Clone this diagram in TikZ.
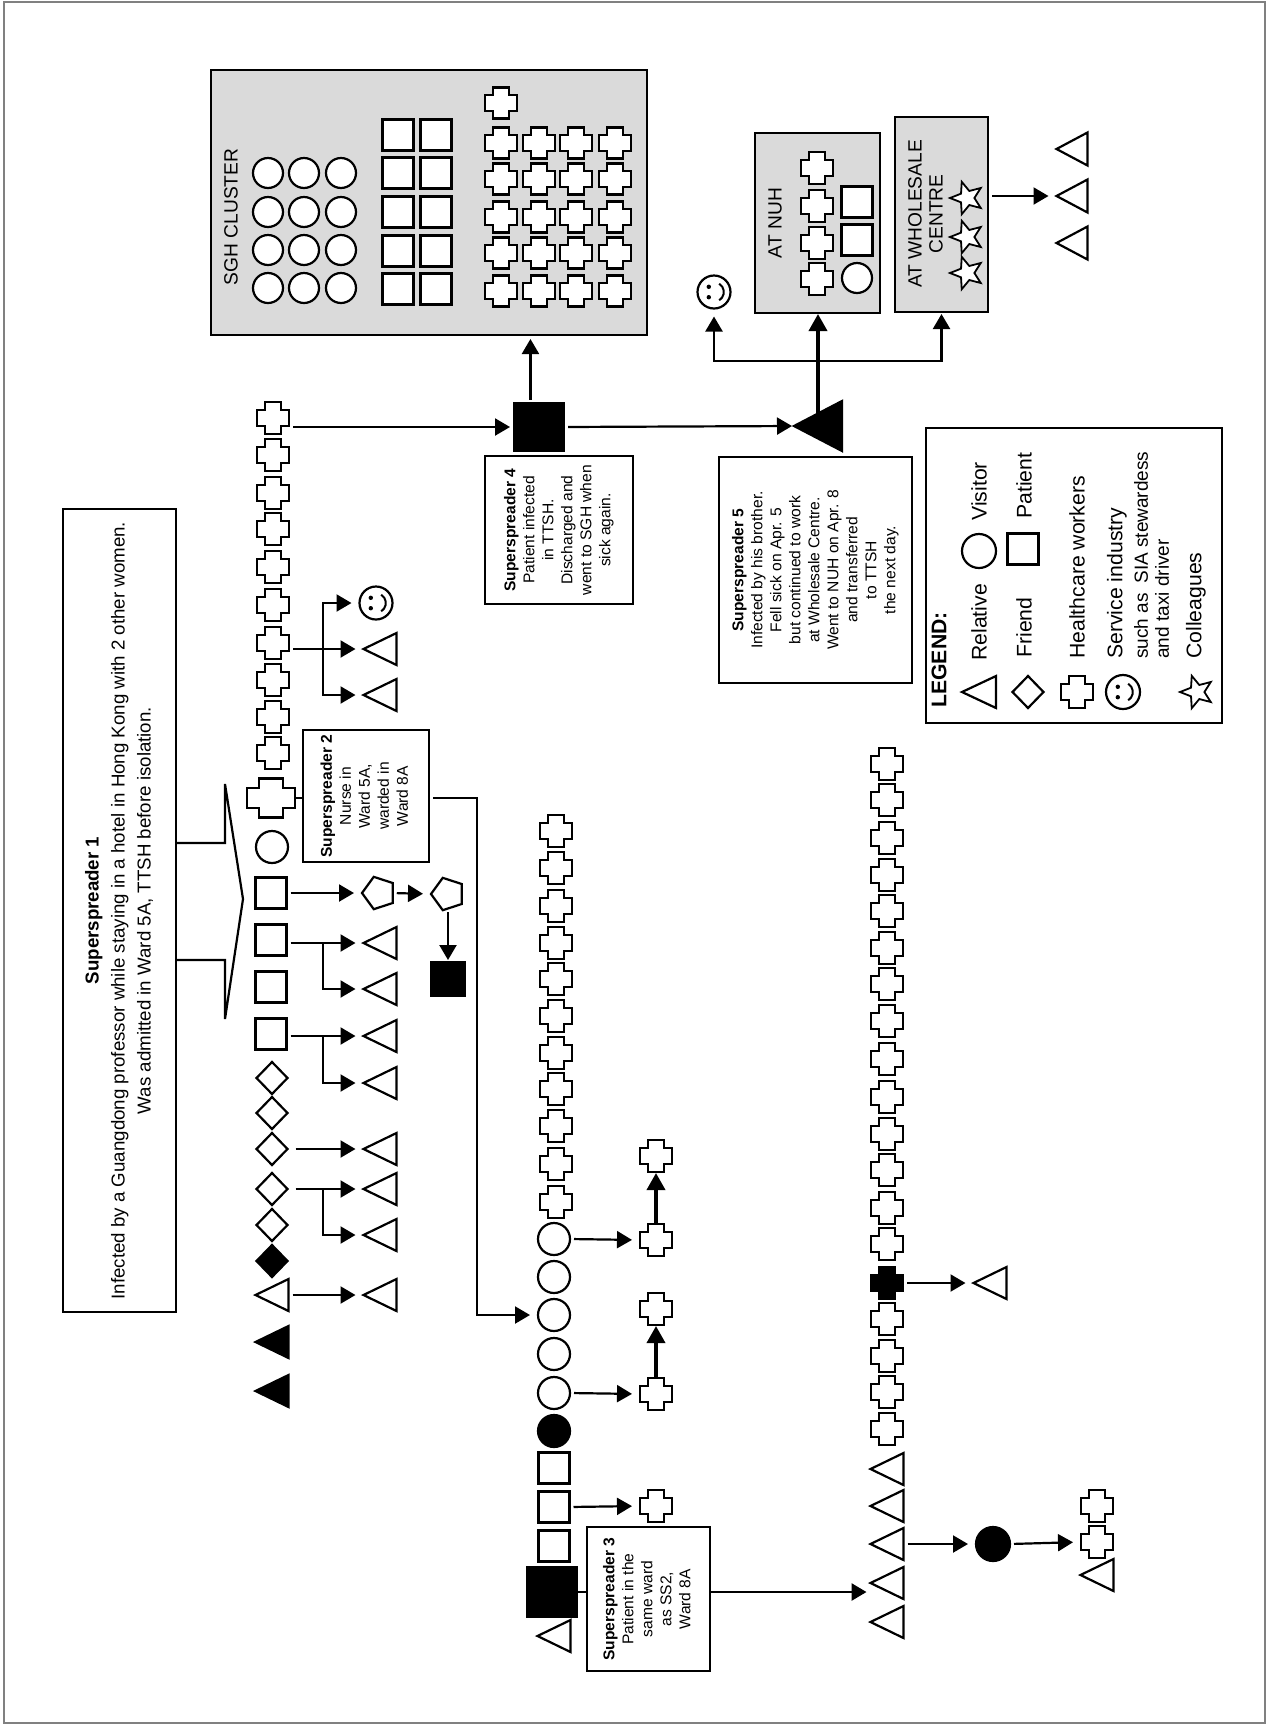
\documentclass[tikz,border=0pt]{standalone}
\usepackage{fontspec}
\setmainfont{Liberation Sans}
\usepackage{graphicx}
\usetikzlibrary{shapes.geometric,arrows.meta}
\definecolor{boxgray}{RGB}{218,218,218}
\definecolor{framegray}{RGB}{128,128,128}
\makeatletter
\newdimen\shxL \newdimen\shxR \newdimen\shyL \newdimen\shyR
\newdimen\shxA \newdimen\shxB \newdimen\shyA \newdimen\shyB
\pgfdeclareshape{plusshape}{%
  \inheritsavedanchors[from=rectangle]%
  \inheritanchorborder[from=rectangle]%
  \inheritanchor[from=rectangle]{center}%
  \inheritanchor[from=rectangle]{north}%
  \inheritanchor[from=rectangle]{south}%
  \inheritanchor[from=rectangle]{east}%
  \inheritanchor[from=rectangle]{west}%
  \inheritanchor[from=rectangle]{north east}%
  \inheritanchor[from=rectangle]{north west}%
  \inheritanchor[from=rectangle]{south east}%
  \inheritanchor[from=rectangle]{south west}%
  \backgroundpath{%
    \southwest \shxL=\pgf@x \shyL=\pgf@y
    \northeast \shxR=\pgf@x \shyR=\pgf@y
    \shxA=\shxR \advance\shxA by -\shxL \shxA=.25\shxA
    \shyA=\shyR \advance\shyA by -\shyL \shyA=.25\shyA
    \shxB=\shxR \advance\shxB by -\shxA
    \shyB=\shyR \advance\shyB by -\shyA
    \advance\shxA by \shxL
    \advance\shyA by \shyL
    \pgfpathmoveto{\pgfqpoint{\shxA}{\shyL}}%
    \pgfpathlineto{\pgfqpoint{\shxB}{\shyL}}%
    \pgfpathlineto{\pgfqpoint{\shxB}{\shyA}}%
    \pgfpathlineto{\pgfqpoint{\shxR}{\shyA}}%
    \pgfpathlineto{\pgfqpoint{\shxR}{\shyB}}%
    \pgfpathlineto{\pgfqpoint{\shxB}{\shyB}}%
    \pgfpathlineto{\pgfqpoint{\shxB}{\shyR}}%
    \pgfpathlineto{\pgfqpoint{\shxA}{\shyR}}%
    \pgfpathlineto{\pgfqpoint{\shxA}{\shyB}}%
    \pgfpathlineto{\pgfqpoint{\shxL}{\shyB}}%
    \pgfpathlineto{\pgfqpoint{\shxL}{\shyA}}%
    \pgfpathlineto{\pgfqpoint{\shxA}{\shyA}}%
    \pgfpathclose
  }%
}
\pgfdeclareshape{ltri}{%
  \inheritsavedanchors[from=rectangle]%
  \inheritanchorborder[from=rectangle]%
  \inheritanchor[from=rectangle]{center}%
  \inheritanchor[from=rectangle]{north}%
  \inheritanchor[from=rectangle]{south}%
  \inheritanchor[from=rectangle]{east}%
  \inheritanchor[from=rectangle]{west}%
  \inheritanchor[from=rectangle]{north east}%
  \inheritanchor[from=rectangle]{north west}%
  \inheritanchor[from=rectangle]{south east}%
  \inheritanchor[from=rectangle]{south west}%
  \backgroundpath{%
    \southwest \shxL=\pgf@x \shyL=\pgf@y
    \northeast \shxR=\pgf@x \shyR=\pgf@y
    \shyA=.5\shyL \advance\shyA by .5\shyR
    \pgfpathmoveto{\pgfqpoint{\shxL}{\shyA}}%
    \pgfpathlineto{\pgfqpoint{\shxR}{\shyR}}%
    \pgfpathlineto{\pgfqpoint{\shxR}{\shyL}}%
    \pgfpathclose
  }%
}
\makeatother
\newcommand\myfA{\fontsize{9.35pt}{13pt}\selectfont}
\newcommand\myfB{\fontsize{7.8pt}{9.5pt}\selectfont}
\newcommand\myfC{\fontsize{9.6pt}{10.5pt}\selectfont}
\newcommand\myfL{\fontsize{10.6pt}{12pt}\selectfont}
\newcommand\myfS{\fontsize{9.5pt}{11pt}\selectfont}
\newcommand\myrtab[1]{\rotatebox{90}{\begin{tabular}{@{}c@{}}#1\end{tabular}}}
\tikzset{
  sh/.style={draw, line width=1.1pt, inner sep=0pt, outer sep=0pt, fill=white},
  hcw/.style={sh, shape=plusshape, minimum width=16pt, minimum height=16pt},
  hcwf/.style={hcw, fill=black},
  rel/.style={sh, shape=ltri, minimum width=16.5pt, minimum height=16pt},
  relf/.style={rel, fill=black},
  vis/.style={sh, circle, minimum size=16pt},
  visf/.style={vis, fill=black},
  pat/.style={sh, rectangle, minimum size=15.5pt},
  patf/.style={pat, fill=black},
  fri/.style={sh, diamond, minimum width=15.5pt, minimum height=16pt},
  frif/.style={fri, fill=black},
  pent/.style={sh, regular polygon, regular polygon sides=5, shape border rotate=90, minimum size=17pt},
  coll/.style={sh, star, star points=5, star point ratio=2.3, shape border rotate=90, minimum size=17pt, line width=0.9pt},
  svc/.style={sh, circle, minimum size=16.5pt, path picture={
    \fill[black] ([shift={(-2.6pt,2.6pt)}]path picture bounding box.center) circle[radius=1.1pt];
    \fill[black] ([shift={(-2.6pt,-2.6pt)}]path picture bounding box.center) circle[radius=1.1pt];
    \draw[black, line width=1pt] ([shift={(-58:4.9pt)}]path picture bounding box.center) arc[start angle=-58, end angle=58, radius=4.9pt];
  }},
  gbox/.style={draw, line width=1.4pt, fill=boxgray, inner sep=0pt, outer sep=0pt},
  tbox/.style={draw, line width=1.2pt, fill=white, inner sep=0pt, outer sep=0pt},
  arr/.style={line width=1.1pt, -{Triangle[length=7.5pt,width=8.5pt]}, shorten >=4pt, shorten <=2pt},
  arrt/.style={arr, line width=1.8pt, -{Triangle[length=8.5pt,width=9pt]}},
  ln/.style={line width=1.1pt},
  lbl/.style={rotate=90, inner sep=0pt},
}
\begin{document}
\begin{tikzpicture}[x=0.5pt,y=-0.5pt]
\useasboundingbox (0,0) rectangle (1267,1725);
\fill[white] (0,0) rectangle (1267,1725);
\draw[framegray, line width=0.7pt] (4,2) rectangle (1265,1723);

% ---------- SGH cluster ----------
\node[gbox, minimum width=218pt, minimum height=132.5pt] (sgh) at (429,202.5) {};
\node[lbl, font=\myfC] (sghl) at (231,217) {SGH CLUSTER};
\foreach \x in {268,304,341} \foreach \y in {173,212,250,288}
  \node[vis, minimum size=15pt] (sgv\x-\y) at (\x,\y) {};
\foreach \x in {398,436} \foreach \y in {135,173,212,251,289}
  \node[pat] (sgq\x-\y) at (\x,\y) {};
\foreach \x in {501,539,576,615} \foreach \y in {143,179,217,253,291}
  \node[hcw, minimum height=15.5pt] (sgc\x-\y) at (\x,\y) {};
\node[hcw, minimum height=15.5pt] (sgc0) at (501,103) {};

% ---------- SS4 / SS5 ----------
\node[patf, minimum width=25pt, minimum height=23.5pt] (ss4) at (539,427) {};
\node[tbox, minimum width=74pt, minimum height=74pt, font=\myfB] (ss4b) at (559,530)
  {\myrtab{\textbf{Superspreader 4}\\Patient infected\\in TTSH.\\Discharged and\\went to SGH when\\sick again.}};
\node[relf, minimum width=24pt, minimum height=25pt] (ss5) at (818,426) {};
\node[tbox, minimum width=96.5pt, minimum height=113pt, font=\myfB] (ss5b) at (815.5,570)
  {\myrtab{\textbf{Superspreader 5}\\Infected by his brother.\\Fell sick on Apr. 5\\but continued to work\\at Wholesale Centre.\\Went to NUH on Apr. 8\\and transferred\\to TTSH\\the next day.}};
\node[svc] (sm2) at (714,292) {};

% NUH
\node[gbox, minimum width=62.5pt, minimum height=90pt] (nuh) at (817.5,223) {};
\node[lbl, font=\myfC] (nuhl) at (775,223) {AT NUH};
\foreach \y [count=\i] in {168,206,243,279} \node[hcw] (nc\i) at (817,\y) {};
\node[pat] (nq1) at (857,202) {};
\node[pat] (nq2) at (857,240) {};
\node[vis, minimum size=15pt] (nv) at (857,278) {};

% Wholesale
\node[gbox, minimum width=46.5pt, minimum height=97.5pt] (whole) at (941.5,214.5) {};
\node[lbl, font=\myfC, align=center] (wl) at (925.5,214) {AT WHOLESALE\\CENTRE};
\node[coll] (ws1) at (967,198) {};
\node[coll] (ws2) at (967,237) {};
\node[coll] (ws3) at (967,273) {};
\node[rel, minimum width=15.5pt, minimum height=16.5pt] (wt1) at (1072,149) {};
\node[rel, minimum width=15.5pt, minimum height=16.5pt] (wt2) at (1072,196) {};
\node[rel, minimum width=15.5pt, minimum height=16.5pt] (wt3) at (1072,243) {};

\draw[arr, shorten >=2pt] (ss4.110) -- (ss4.110 |- sgh.south);
\draw[arr, shorten >=1pt] (ss4.east) -- (ss5.west);
\draw[arrt, shorten >=0.5pt, shorten <=0pt] (ss5.center) -- (ss5.center |- nuh.south);
\coordinate (br) at (818,361);
\draw[arr, shorten <=0pt] (br) -| (sm2.south);
\draw[arr, shorten <=0pt, shorten >=1pt] (br) -| (whole.south);
\draw[arr] (wt2.west -| whole.east) -- (wt2.west);

% ---------- Legend ----------
\node[tbox, minimum width=148pt, minimum height=147.5pt] (leg) at (1074,575.5) {};
\node[lbl, anchor=west, font=\bfseries\myfL] (legt) at (939,708) {LEGEND:};
\node[rel, minimum width=17pt, minimum height=16pt] (lg1) at (979,692) {};
\node[lbl, anchor=west, font=\myfL] (lgt1) at (979,661) {Relative};
\node[vis, minimum size=17pt] (lg2) at (979,551) {};
\node[lbl, anchor=west, font=\myfL] (lgt2) at (979,521) {Visitor};
\node[fri] (lg3) at (1028,692) {};
\node[lbl, anchor=west, font=\myfL] (lgt3) at (1024,658) {Friend};
\node[pat] (lg4) at (1023,549) {};
\node[lbl, anchor=west, font=\myfL] (lgt4) at (1024,519) {Patient};
\node[hcw] (lg5) at (1077,692) {};
\node[lbl, anchor=west, font=\myfL] (lgt5) at (1077,659) {Healthcare workers};
\node[svc, minimum size=17pt] (lg6) at (1123,692) {};
\node[lbl, anchor=west, font=\myfL] (lgt6) at (1117,659) {Service industry};
\node[lbl, anchor=west, font=\myfS] (lgt7) at (1141,659) {such as\enspace SIA stewardess};
\node[lbl, anchor=west, font=\myfS] (lgt8) at (1162,659) {and taxi driver};
\node[coll] (lg7) at (1197,692) {};
\node[lbl, anchor=west, font=\myfL] (lgt9) at (1196,659) {Colleagues};

% ---------- SS1 ----------
\node[tbox, minimum width=56.5pt, minimum height=401.5pt, font=\myfA] (ss1) at (119.5,910.5)
  {\myrtab{\textbf{Superspreader 1}\\Infected by a Guangdong professor while staying in a hotel in Hong Kong with 2 other women.\\Was admitted in Ward 5A, TTSH before isolation.}};
\coordinate (w1) at (225,843);
\coordinate (w2) at (225,784);
\coordinate (w3) at (243,899);
\coordinate (w4) at (225,1019);
\coordinate (w5) at (225,960);
\draw[ln] (w1 -| ss1.east) -- (w1) -- (w2) -- (w3) -- (w4) -- (w5) -- (w5 -| ss1.east);

% main column
\foreach \y [count=\i] in {418,455,493,529,567,605,643,680,717,753}
  \node[hcw] (c\i) at (273,\y) {};
\node[hcw, minimum width=24pt, minimum height=19.5pt] (ss2x) at (271,798) {};
\node[vis] (m1) at (272,847) {};
\node[pat] (q1) at (271,893) {};
\node[pat] (q2) at (271,940) {};
\node[pat] (q3) at (271,987) {};
\node[pat] (q4) at (271,1034) {};
\node[fri] (d1) at (272,1078) {};
\node[fri] (d2) at (272,1113) {};
\node[fri] (d3) at (272,1149) {};
\node[fri] (d4) at (272,1189) {};
\node[fri] (d5) at (272,1225) {};
\node[frif] (d6) at (272,1261) {};
\node[rel] (mt1) at (272,1295) {};
\node[relf] (mt2) at (272,1342) {};
\node[relf] (mt3) at (272,1391) {};

\draw[arr, shorten >=2pt] (c1.east |- ss4.west) -- (ss4.west);

% right of main column
\node[svc] (sm1) at (376,603) {};
\node[rel] (r1) at (380,649) {};
\node[rel] (r2) at (380,695) {};
\node[pent] (pg1) at (379,893) {};
\node[pent] (pg2) at (448,894) {};
\node[patf, minimum size=17pt] (bq) at (448,979) {};
\node[rel] (r3) at (380,943) {};
\node[rel] (r4) at (380,989) {};
\node[rel] (r5) at (380,1036) {};
\node[rel] (r6) at (380,1083) {};
\node[rel] (r7) at (380,1149) {};
\node[rel] (r8) at (380,1189) {};
\node[rel] (r9) at (380,1235) {};
\node[rel] (r10) at (380,1295) {};

\draw[arr] (c7.east |- r1.west) -- (r1.west);
\coordinate (b1) at (323,649);
\draw[arr, shorten <=0pt] (b1) |- (sm1.west);
\draw[arr, shorten <=0pt] (b1) |- (r2.west);
\draw[arr] (q1.east) -- (pg1.180);
\draw[arr] (pg1.0) -- (pg2.180);
\draw[arr, shorten >=1pt] (pg2.270) -- (bq.north);
\draw[arr] (q2.east |- r3.west) -- (r3.west);
\coordinate (b2) at (323,943);
\draw[arr, shorten <=0pt] (b2) |- (r4.west);
\draw[arr] (q4.east |- r5.west) -- (r5.west);
\coordinate (b3) at (323,1036);
\draw[arr, shorten <=0pt] (b3) |- (r6.west);
\draw[arr, shorten <=4pt] (d3.east) -- (r7.west);
\draw[arr, shorten <=4pt] (d4.east) -- (r8.west);
\coordinate (b4) at (323,1189);
\draw[arr, shorten <=0pt] (b4) |- (r9.west);
\draw[arr] (mt1.east) -- (r10.west);

% ---------- SS2 ----------
\node[tbox, minimum width=63pt, minimum height=66pt, font=\myfB] (ss2b) at (366,796)
  {\myrtab{\textbf{Superspreader 2}\\Nurse in\\Ward 5A,\\warded in\\Ward 8A}};
\draw[ln] (ss2x.east) -- (ss2x.east -| ss2b.west);

\foreach \y [count=\i] in {831,868,906,943,979,1016,1053,1089,1126,1164,1202}
  \node[hcw] (kc\i) at (556,\y) {};
\node[vis] (k1) at (554,1239) {};
\node[vis] (k2) at (554,1277) {};
\node[vis] (k3) at (554,1315) {};
\node[vis] (k4) at (554,1354) {};
\node[vis] (k5) at (554,1393) {};
\node[visf] (k6) at (554,1431) {};
\node[pat] (kq1) at (554,1468) {};
\node[pat] (kq2) at (554,1507) {};
\node[pat] (kq3) at (554,1546) {};
\node[patf, minimum size=24.5pt] (ss3) at (552,1592) {};
\node[rel] (kt) at (554,1636) {};

\coordinate (j1) at (477,798);
\draw[arr] (ss2b.east |- j1) -- (j1) |- (k3.west);

\node[hcw] (ka) at (656,1240) {};
\node[hcw] (kb) at (656,1156) {};
\node[hcw] (kd) at (656,1394) {};
\node[hcw] (ke) at (656,1309) {};
\node[hcw] (kf) at (656,1506) {};
\draw[arr] (k1.east) -- (ka.west);
\draw[arrt, shorten >=0.5pt, shorten <=0.5pt] (ka.north) -- (kb.south);
\draw[arr] (k5.east) -- (kd.west);
\draw[arrt, shorten >=0.5pt, shorten <=0.5pt] (kd.north) -- (ke.south);
\draw[arr] (kq2.east) -- (kf.west);

% ---------- SS3 ----------
\node[tbox, minimum width=61.5pt, minimum height=72pt, font=\myfB] (ss3b) at (648.5,1599)
  {\myrtab{\textbf{Superspreader 3}\\Patient in the\\same ward\\as SS2,\\Ward 8A}};
\draw[ln] (ss3.east) -- (ss3.east -| ss3b.west);

\foreach \y [count=\i] in {764,800,838,875,911,948,984,1021,1059,1097,1134,1170,1208,1244}
  \node[hcw] (uc\i) at (887,\y) {};
\node[hcwf] (ux) at (887,1283) {};
\foreach \y [count=\i] in {1319,1356,1392,1429}
  \node[hcw] (ud\i) at (887,\y) {};
\foreach \y [count=\i] in {1469,1506,1544,1583,1622}
  \node[rel] (u\i) at (887,\y) {};

\draw[arr, line width=1.4pt, shorten >=2pt, shorten <=0pt] (ss3.east -| ss3b.east) -- (ss3.east -| u4.west);

\node[rel] (ux1) at (990,1283) {};
\draw[arr] (ux.east) -- (ux1.west);
\node[visf, minimum size=17pt] (ubc) at (993,1544) {};
\node[hcw] (uy1) at (1097,1542) {};
\node[hcw] (uy2) at (1097,1506) {};
\node[rel] (uy3) at (1097,1575) {};
\draw[arr] (u3.east) -- (ubc.west);
\draw[arr] (ubc.east) -- (uy1.west);
\end{tikzpicture}
\end{document}
